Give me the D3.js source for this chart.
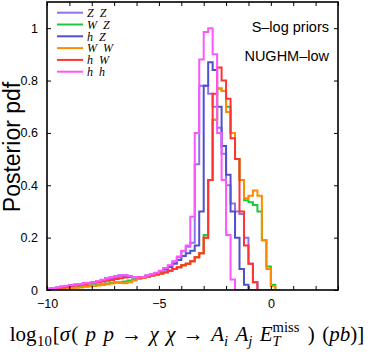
<!DOCTYPE html>
<html>
<head>
<meta http-equiv="Content-Type" content="text/html;charset=utf-8"/>
<script src="https://cdn.jsdelivr.net/npm/d3@7"></script>
<style type="text/css">
body { margin: 0; background: #fff; }
.frame { fill: none; stroke: #000; stroke-width: 1.6px; }
.axis path { display: none; }
.axis line { stroke: #000; stroke-width: 1px; }
.axis text { font: 12.5px "Liberation Sans", Arial, sans-serif; fill: #000; }
.hist { fill: none; stroke-width: 2px; }
.legend text { font: italic 12px "Liberation Serif", "Times New Roman", serif; }
.note { font: 14.5px "Liberation Sans", Arial, sans-serif; text-anchor: end; }
.ylabel { font: 23px "Liberation Sans", Arial, sans-serif; text-anchor: middle; }
.xlabel text { font-family: "Liberation Serif", "Times New Roman", serif; }
</style>
</head>
<body>
<script>

var width = 374, height = 357;

// histogram bins: first edge and width, in log10(sigma)
var binStart = -10, binWidth = 0.2;

var seriesNames = ["Z\u2002Z", "W\u2002Z", "h\u2002Z", "W\u2002W", "h\u2002W", "h\u2002h"];
var seriesColors = ["#9370ee", "#1ec83c", "#4f4fd0", "#ff8c00", "#ff3333", "#ff55ff"];

var zz = [0.005, 0.008, 0.010, 0.012, 0.015, 0.018, 0.020, 0.023, 0.025, 0.027,
          0.030, 0.033, 0.037, 0.043, 0.047, 0.051, 0.054, 0.055, 0.052, 0.049,
          0.048, 0.050, 0.055, 0.060, 0.065, 0.073, 0.082, 0.093, 0.108, 0.125,
          0.148, 0.165, 0.180, 0.480, 0.780, 0.780, 0.750, 0.700, 0.620, 0.520,
          0.400, 0.330, 0.300, 0.290, 0.200, 0.100, 0.030, 0, 0, 0, 0, 0];
var wz = [0.003, 0.004, 0.005, 0.006, 0.007, 0.009, 0.010, 0.012, 0.014, 0.016,
          0.018, 0.020, 0.022, 0.025, 0.028, 0.030, 0.030, 0.032, 0.036, 0.040,
          0.044, 0.047, 0.051, 0.055, 0.059, 0.063, 0.068, 0.074, 0.080, 0.087,
          0.095, 0.100, 0.110, 0.125, 0.140, 0.210, 0.420, 0.650, 0.770, 0.760,
          0.700, 0.600, 0.500, 0.420, 0.343, 0.335, 0.325, 0.300, 0.190, 0.090, 0.020, 0];
var hz = [0.005, 0.007, 0.009, 0.012, 0.015, 0.018, 0.020, 0.022, 0.025, 0.027,
          0.030, 0.033, 0.038, 0.044, 0.048, 0.052, 0.055, 0.054, 0.051, 0.049,
          0.048, 0.050, 0.054, 0.058, 0.063, 0.070, 0.078, 0.088, 0.100, 0.115,
          0.130, 0.140, 0.150, 0.170, 0.300, 0.780, 0.870, 0.840, 0.700, 0.550,
          0.440, 0.300, 0.200, 0.080, 0.020, 0, 0, 0, 0, 0, 0, 0];
var ww = [0.003, 0.004, 0.005, 0.006, 0.007, 0.008, 0.009, 0.010, 0.012, 0.013,
          0.015, 0.017, 0.019, 0.022, 0.025, 0.028, 0.027, 0.026, 0.030, 0.036,
          0.042, 0.046, 0.051, 0.055, 0.059, 0.063, 0.068, 0.074, 0.080, 0.087,
          0.095, 0.100, 0.110, 0.125, 0.140, 0.200, 0.420, 0.650, 0.770, 0.760,
          0.680, 0.600, 0.500, 0.420, 0.350, 0.360, 0.380, 0.360, 0.190, 0.080, 0.015, 0];
var hw = [0.004, 0.006, 0.008, 0.010, 0.012, 0.015, 0.017, 0.020, 0.022, 0.025,
          0.028, 0.030, 0.032, 0.035, 0.038, 0.042, 0.045, 0.048, 0.050, 0.050,
          0.048, 0.048, 0.052, 0.055, 0.059, 0.063, 0.068, 0.074, 0.080, 0.087,
          0.095, 0.100, 0.110, 0.125, 0.140, 0.200, 0.420, 0.750, 0.850, 0.800,
          0.730, 0.580, 0.500, 0.300, 0.170, 0.100, 0.030, 0, 0, 0, 0, 0];
var hh = [0.005, 0.008, 0.010, 0.013, 0.016, 0.018, 0.021, 0.023, 0.026, 0.028,
          0.030, 0.034, 0.039, 0.045, 0.049, 0.052, 0.055, 0.056, 0.053, 0.050,
          0.048, 0.050, 0.055, 0.060, 0.066, 0.074, 0.084, 0.095, 0.110, 0.128,
          0.150, 0.170, 0.280, 0.600, 0.880, 0.985, 1.000, 0.900, 0.600, 0.420,
          0.210, 0.040, 0, 0, 0, 0, 0, 0, 0, 0, 0, 0];

var seriesValues = [zz, wz, hz, ww, hw, hh];

var xTickValues = [-10, -9, -8, -7, -6, -5, -4, -3, -2, -1, 0, 1, 2, 3];
var xTickLabels = [-10, -5, 0];
var yTickValues = [0, 0.2, 0.4, 0.6, 0.8, 1];

var noteLines = ["S\u2013log priors", "NUGHM\u2013low"];

var x = d3.scaleLinear().domain([-10, 3]).range([47, 338]);
var y = d3.scaleLinear().domain([0, 1.1]).range([290, 2]);

var svg = d3.select("body").append("svg")
    .attr("width", width)
    .attr("height", height);

svg.append("clipPath").attr("id", "plotclip")
  .append("rect")
    .attr("x", x.range()[0]).attr("y", y.range()[1])
    .attr("width", x.range()[1] - x.range()[0])
    .attr("height", y.range()[0] - y.range()[1]);

// step outline of one histogram
function histPoints(vals)
{
  var pts = vals.map(function(v, i) { return [binStart + i * binWidth, v]; });
  pts.push([binStart + vals.length * binWidth, 0]);
  return pts;
}

var line = d3.line()
    .x(function(d) { return x(d[0]); })
    .y(function(d) { return y(d[1]); })
    .curve(d3.curveStepAfter);

svg.append("g").attr("clip-path", "url(#plotclip)")
  .selectAll("path")
  .data(seriesValues)
  .enter().append("path")
    .attr("class", "hist")
    .attr("stroke", function(d, i) { return seriesColors[i]; })
    .attr("d", function(d) { return line(histPoints(d)); });

// inward ticks on all four sides
var fmtX = function(d) { return xTickLabels.indexOf(d) >= 0 ? d3.format("")(d) : ""; };

svg.append("g").attr("class", "axis")
    .attr("transform", "translate(0," + y(0) + ")")
    .call(d3.axisBottom(x).tickValues(xTickValues).tickSize(-4).tickPadding(9).tickFormat(fmtX));
svg.append("g").attr("class", "axis")
    .attr("transform", "translate(0," + y(1.1) + ")")
    .call(d3.axisTop(x).tickValues(xTickValues).tickSize(-4).tickFormat(""));
svg.append("g").attr("class", "axis")
    .attr("transform", "translate(" + x(-10) + ",0)")
    .call(d3.axisLeft(y).tickValues(yTickValues).tickSize(-4).tickPadding(9).tickFormat(d3.format("")));
svg.append("g").attr("class", "axis")
    .attr("transform", "translate(" + x(3) + ",0)")
    .call(d3.axisRight(y).tickValues(yTickValues).tickSize(-4).tickFormat(""));

svg.append("rect")
    .attr("class", "frame")
    .attr("x", x(-10)).attr("y", y(1.1))
    .attr("width", x(3) - x(-10))
    .attr("height", y(0) - y(1.1));

// legend
var legend = svg.append("g").attr("class", "legend");
seriesNames.forEach(function(name, i) {
  var ly = 12.7 + i * 11.8;
  legend.append("line")
      .attr("x1", 57).attr("x2", 83)
      .attr("y1", ly).attr("y2", ly)
      .attr("stroke", seriesColors[i])
      .attr("stroke-width", 2);
  legend.append("text")
      .attr("x", 87).attr("y", ly + 4.2)
      .text(name);
});

svg.selectAll(".note")
  .data(noteLines)
  .enter().append("text")
    .attr("class", "note")
    .attr("x", 329)
    .attr("y", function(d, i) { return 31.5 + i * 29; })
    .text(function(d) { return d; });

svg.append("text")
    .attr("class", "ylabel")
    .attr("transform", "translate(19.5,147) rotate(-90)")
    .text("Posterior pdf");

// x label, built piece by piece like the LaTeX original
// [text, italic, kind, gap before in em]; kind: 0 normal, 1 subscript, 2 superscript over previous
var labelParts = [
  ["log", false, 0, 0], ["10", false, 1, 0.02], ["[", false, 0, 0.05], ["\u03c3", true, 0, 0],
  ["(", false, 0, 0.05], ["p", true, 0, 0.35], ["p", true, 0, 0.35], ["\u2192", false, 0, 0.35],
  ["\u03c7", true, 0, 0.35], ["\u03c7", true, 0, 0.35], ["\u2192", false, 0, 0.35],
  ["A", true, 0, 0.35], ["i", true, 1, 0], ["A", true, 0, 0.35], ["j", true, 1, 0],
  ["E", true, 0, 0.35], ["T", true, 1, 0], ["miss", false, 2, 0],
  [")", false, 0, 0.4], ["(", false, 0, 0.35], ["pb", true, 0, 0], [")]", false, 0, 0]
];
var fs = 21;
var xlab = svg.append("g").attr("class", "xlabel");
var cx = 0, lastStart = 0, lastEnd = 0;
labelParts.forEach(function(p) {
  var size = p[2] === 0 ? fs : fs * 0.7;
  var start = p[2] === 2 ? lastStart : cx + p[3] * fs;
  var dy = p[2] === 1 ? 5 : (p[2] === 2 ? -9 : 0);
  var t = xlab.append("text")
      .attr("x", start).attr("y", dy)
      .style("font-size", size + "px")
      .style("font-style", p[1] ? "italic" : "normal")
      .text(p[0]);
  var w = t.node().getComputedTextLength();
  if (p[2] === 2) {
    cx = Math.max(lastEnd, start + w);
  } else {
    lastStart = start;
    lastEnd = start + w;
    cx = start + w;
  }
});
xlab.attr("transform", "translate(" + ((width - cx) / 2) + ",341)");

</script>
</body>
</html>
